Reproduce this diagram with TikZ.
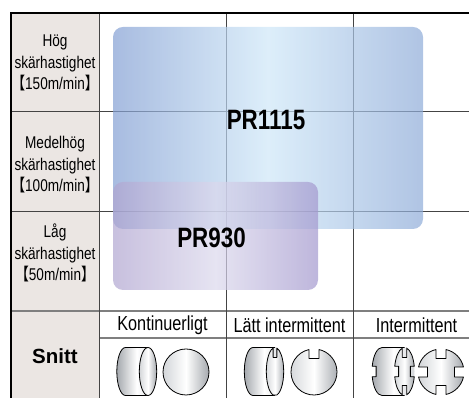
\documentclass[tikz,border=0pt]{standalone}
\usepackage{fontspec}
\setmainfont{Liberation Sans}
\newfontfamily\narrowfont[FakeStretch=0.8]{Liberation Sans}
\newfontfamily\cjkfont[FakeStretch=0.8]{Noto Sans CJK JP}
\usepackage{tikz}

\definecolor{headgray}{HTML}{EBE6E3}
\definecolor{rulegray}{HTML}{444444}
\definecolor{sepgray}{HTML}{7F7F7F}
\definecolor{blueleft}{RGB}{131,159,211}
\definecolor{bluemid}{RGB}{206,231,248}
\definecolor{blueright}{RGB}{142,171,216}
\definecolor{lilacleft}{RGB}{176,165,208}
\definecolor{lilacmid}{RGB}{219,216,236}
\definecolor{lilacright}{RGB}{162,151,205}
\definecolor{steeldark}{HTML}{A5A9AE}
\definecolor{steellight}{HTML}{D3D6D9}

% speed in lenticular brackets
\newcommand{\cutspeed}[1]{{\cjkfont 【}#1{\cjkfont 】}}

% notch geometry of the insert faces (unit radius)
\newcommand{\notchang}{12.6}
\newcommand{\notchdep}{0.39}
\newcommand{\notchwid}{0.435}

% face outlines
\newcommand{\roundface}{(0,0) circle[radius=1]}
\newcommand{\onenotchface}{(90-\notchang:1) -- ++(270:\notchdep) -- ++(180:\notchwid) -- (90+\notchang:1)
  arc[start angle=90+\notchang, end angle=450-\notchang, radius=1] -- cycle}
\newcommand{\crossface}{(90-\notchang:1) -- ++(270:\notchdep) -- ++(180:\notchwid) -- (90+\notchang:1)
  arc[start angle=90+\notchang, end angle=180-\notchang, radius=1] -- ++(0:\notchdep) -- ++(270:\notchwid) -- (180+\notchang:1)
  arc[start angle=180+\notchang, end angle=270-\notchang, radius=1] -- ++(90:\notchdep) -- ++(0:\notchwid) -- (270+\notchang:1)
  arc[start angle=270+\notchang, end angle=360-\notchang, radius=1] -- ++(180:\notchdep) -- ++(90:\notchwid) -- (\notchang:1)
  arc[start angle=\notchang, end angle=90-\notchang, radius=1] -- cycle}

% left half of the back face
\newcommand{\roundback}{arc[start angle=90, end angle=270, radius=1]}
\newcommand{\notchback}{arc[start angle=90, end angle=180-\notchang, radius=1] -- ++(0:\notchdep) -- ++(270:\notchwid) -- (180+\notchang:1)
  arc[start angle=180+\notchang, end angle=270, radius=1]}

% #1 back x, #2 front x, #3 x radius, #4 back half, #5 face, #6 disc x
\newcommand{\cutinsert}[6]{%
  \begin{scope}[shift={(#1,26.5)}, xscale=#3, yscale=24]
    \shade[steelbody] (0,1) #4 -- ({(#2-#1)/#3},-1) arc[start angle=-90, end angle=90, radius=1] -- cycle;
    \draw[steeledge] (0,1) #4 -- ({(#2-#1)/#3},-1) (0,1) -- ({(#2-#1)/#3},1);
    \begin{scope}[shift={({(#2-#1)/#3},0)}]
      \shade[steelface] #5;
      \draw[steeledge] #5;
    \end{scope}
  \end{scope}
  \begin{scope}[shift={(#6,26)}, scale=23]
    \shade[steelface] #5;
    \draw[steeledge] #5;
  \end{scope}}

\begin{document}
\begin{tikzpicture}[x=1pt, y=1pt,
    rowhead/.style={font=\narrowfont\fontsize{17}{21.5}\selectfont, align=center, inner sep=0pt},
    colhead/.style={font=\narrowfont\fontsize{20.3}{24}\selectfont, inner sep=0pt},
    grade/.style={font=\narrowfont\bfseries\fontsize{28}{32}\selectfont, inner sep=0pt},
    outerrule/.style={line width=1.3pt, black},
    tablerule/.style={line width=1pt, rulegray},
    seprule/.style={line width=1.6pt, sepgray},
    gradebox/.style={rounded corners=10pt, fill opacity=0.7},
    steelbody/.style={left color=steeldark, right color=steellight, middle color=white},
    steelface/.style={left color=steellight, right color=steeldark, middle color=white},
    steeledge/.style={line width=0.8pt, black, line join=round}
  ]
  \useasboundingbox (0,0) rectangle (469,398);

  % table
  \fill[headgray] (11,0) rectangle (99,385);
  \draw[tablerule] (11,286) -- (469,286);
  \draw[tablerule] (11,186) -- (469,186);
  \draw[seprule] (11,87) -- (469,87);
  \draw[seprule] (99,60) -- (469,60);
  \foreach \x in {99,226,353}
    \draw[tablerule] (\x,385) -- (\x,0);
  \draw[outerrule] (11,0) -- (11,385) -- (469,385);

  % grade ranges
  \shade[gradebox, left color=blueleft, right color=blueright, middle color=bluemid]
    (113,169) rectangle (423,371);
  \shade[gradebox, left color=lilacleft, right color=lilacright, middle color=lilacmid]
    (113,108) rectangle (318,216);
  \node[grade] (pr1115) at (266,278) {PR1115};
  \node[grade] (pr930) at (211.5,160) {PR930};

  % cutting speeds
  \node[rowhead] (hog) at (55,335) {Hög\\skärhastighet\\\cutspeed{150m/min}};
  \node[rowhead] (medel) at (55,233) {Medelhög\\skärhastighet\\\cutspeed{100m/min}};
  \node[rowhead] (lag) at (55,145) {Låg\\skärhastighet\\\cutspeed{50m/min}};

  % cut types
  \node[font=\bfseries\fontsize{20.5}{24}\selectfont, inner sep=0pt] (snitt) at (55,42) {Snitt};
  \node[colhead] (kont) at (162.5,73) {Kontinuerligt};
  \node[colhead] (latt) at (289.5,73) {Lätt intermittent};
  \node[colhead] (inter) at (416.5,73) {Intermittent};

  \cutinsert{125.5}{148}{8.7}{\roundback}{\roundface}{186}
  \cutinsert{253}{275}{8.7}{\roundback}{\onenotchface}{314}
  \cutinsert{382}{404.5}{10}{\notchback}{\crossface}{441}
\end{tikzpicture}
\end{document}
